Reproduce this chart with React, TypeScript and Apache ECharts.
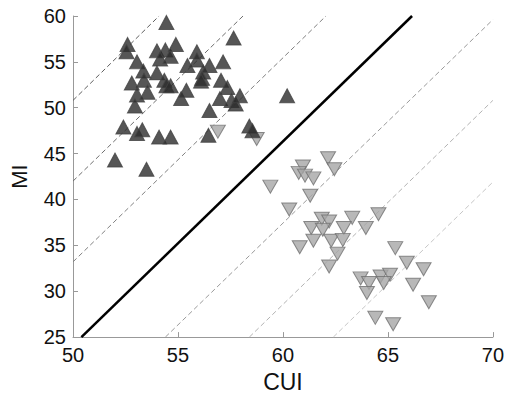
import React, { useEffect, useRef } from "react";
import * as echarts from "echarts";

const xTicks = [50, 55, 60, 65, 70];
const yTicks = [25, 30, 35, 40, 45, 50, 55, 60];

// Group with MI > CUI (dark, upward triangles)
const darkPoints: [number, number][] = [
  [54.45, 59.3], [52.6, 56.9], [52.55, 56.1], [53.05, 55.0], [53.35, 54.0],
  [53.38, 53.0], [52.8, 52.7], [53.05, 51.4], [53.55, 51.7], [52.95, 50.2],
  [52.4, 47.9], [53.05, 47.2], [53.3, 47.6], [52.0, 44.3], [53.5, 43.3],
  [54.1, 46.8], [54.65, 46.8], [54.0, 53.8], [54.0, 56.2], [54.4, 56.3],
  [54.15, 55.3], [54.65, 55.6], [54.9, 56.9], [54.35, 53.0], [54.45, 52.4],
  [54.65, 52.4], [55.15, 51.0], [55.4, 51.9], [55.45, 54.6], [55.9, 56.1],
  [55.9, 55.2], [56.2, 53.9], [56.5, 54.6], [56.15, 53.2], [56.1, 52.9],
  [56.5, 49.7], [56.45, 47.0], [57.0, 51.0], [57.05, 53.0], [57.15, 55.0],
  [57.35, 52.2], [57.55, 50.8], [57.75, 50.4], [57.65, 57.6], [57.95, 51.3],
  [58.4, 48.0], [58.55, 47.5], [60.2, 51.3],
];

// Group with CUI > MI (light, downward triangles)
const lightPoints: [number, number][] = [
  [56.9, 47.4], [58.75, 46.6], [62.15, 44.5], [62.45, 43.3], [60.95, 43.6],
  [60.75, 42.9], [61.05, 42.6], [61.45, 42.3], [59.4, 41.4], [61.3, 40.4],
  [60.3, 38.9], [61.85, 37.9], [62.2, 37.6], [63.3, 38.0], [64.55, 38.4],
  [61.35, 36.9], [61.9, 36.7], [62.9, 36.9], [63.95, 36.9], [61.45, 35.5],
  [62.3, 35.5], [62.85, 35.6], [60.8, 34.8], [62.6, 34.1], [62.2, 32.7],
  [65.35, 34.7], [65.9, 33.1], [66.7, 32.4], [63.7, 31.4], [64.1, 30.9],
  [64.65, 31.6], [65.1, 31.8], [64.8, 30.9], [66.2, 30.7], [64.0, 29.8],
  [66.95, 28.8], [64.4, 27.1], [65.25, 26.4],
];

// Reference lines (endpoints)
const identityLine: [number, number][] = [[50.4, 25], [66.15, 60]];
const dashedLines: [number, number][][] = [
  [[50, 50.8], [54.1, 60]],
  [[50, 42.0], [58.1, 60]],
  [[50, 33.2], [62.05, 60]],
  [[54.4, 25], [70, 59.6]],
  [[58.4, 25], [70, 50.8]],
  [[62.4, 25], [70, 41.9]],
];
const dashedColors = ["#5e5e5e", "#6e6e6e", "#808080", "#9a9a9a", "#b2b2b2", "#c6c6c6"];

export default function App() {
  const ref = useRef<HTMLDivElement>(null);
  useEffect(() => {
    if (!ref.current) return;
    const chart = echarts.init(ref.current, null, { renderer: "svg" });
    const font = "'Liberation Sans', Arial, Helvetica, sans-serif";
    const series: any[] = [];
    dashedLines.forEach((ln, i) => {
      series.push({
        type: "line",
        data: ln,
        symbol: "none",
        lineStyle: { color: dashedColors[i], width: 1, type: [5, 3] },
        silent: true,
        z: 1,
      });
    });
    series.push({
      type: "line",
      data: identityLine,
      symbol: "none",
      lineStyle: { color: "#000", width: 2.5 },
      silent: true,
      z: 2,
    });
    series.push({
      type: "scatter",
      data: lightPoints,
      symbol: "triangle",
      symbolRotate: 180,
      symbolSize: [15, 13],
      itemStyle: { color: "#a6a6a6", borderColor: "#707070", borderWidth: 1 },
      z: 3,
    });
    series.push({
      type: "scatter",
      data: darkPoints,
      symbol: "triangle",
      symbolSize: [15, 14],
      itemStyle: { color: "#2c2c2c", borderColor: "#444", borderWidth: 1 },
      z: 4,
    });
    chart.setOption({
      animation: false,
      backgroundColor: "#fff",
      grid: { left: 68, right: 13, top: 16, bottom: 60, containLabel: false },
      xAxis: {
        type: "value",
        min: 50,
        max: 70,
        interval: 5,
        name: "CUI",
        nameLocation: "middle",
        nameGap: 32,
        nameTextStyle: { fontSize: 23, color: "#111", fontFamily: font },
        axisLine: { lineStyle: { color: "#999", width: 1 } },
        axisTick: { inside: true, length: 5, lineStyle: { color: "#999" } },
        axisLabel: { fontSize: 20, color: "#111", fontFamily: font, margin: 8 },
        splitLine: { show: false },
        data: xTicks,
      },
      yAxis: {
        type: "value",
        min: 25,
        max: 60,
        interval: 5,
        name: "MI",
        nameLocation: "middle",
        nameGap: 43,
        nameTextStyle: { fontSize: 22, color: "#111", fontFamily: font },
        axisLine: { show: true, lineStyle: { color: "#999", width: 1 } },
        axisTick: { show: true, inside: true, length: 5, lineStyle: { color: "#999" } },
        axisLabel: { fontSize: 20, color: "#111", fontFamily: font, margin: 7 },
        splitLine: { show: false },
        data: yTicks,
      },
      series,
    });
    return () => chart.dispose();
  }, []);
  return (
    <div
      ref={ref}
      style={{ position: "fixed", left: 0, top: 0, width: 507, height: 398, background: "#fff" }}
    />
  );
}
